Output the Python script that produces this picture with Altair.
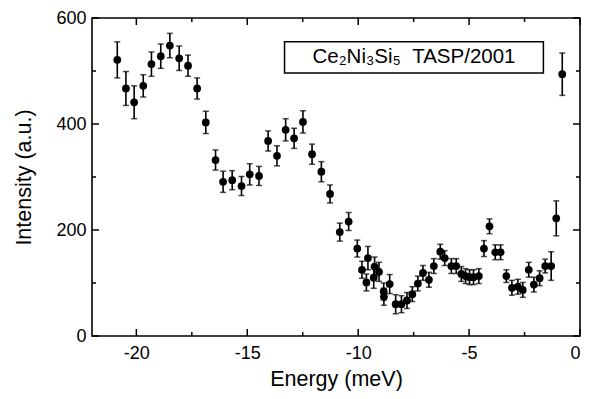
import altair as alt
import pandas as pd

# ---- data ----
energy = [-20.86, -20.47, -20.10, -19.69, -19.32, -18.90, -18.49, -18.07, -17.67, -17.26,
          -16.87, -16.43, -16.09, -15.68, -15.26, -14.89, -14.47, -14.06, -13.66, -13.27,
          -12.89, -12.49, -12.08, -11.66, -11.27, -10.83, -10.43, -10.04, -9.83, -9.63,
          -9.56, -9.30, -9.26, -9.06, -8.85, -8.84, -8.58, -8.31, -8.05, -7.80,
          -7.56, -7.31, -7.08, -6.81, -6.59, -6.30, -6.10, -5.80, -5.58, -5.35,
          -5.16, -4.98, -4.80, -4.56, -4.33, -4.08, -3.82, -3.58, -3.32, -3.07,
          -2.80, -2.58, -2.31, -2.08, -1.82, -1.57, -1.30, -1.07, -0.80]
intensity = [521, 467, 441, 472, 513, 528, 548, 524, 510, 467,
             403, 332, 291, 294, 283, 305, 302, 368, 340, 389,
             373, 404, 343, 310, 268, 196, 216, 165, 125, 101,
             147, 110, 131, 121, 84, 74, 98, 60, 60, 67,
             79, 99, 119, 106, 132, 159, 147, 132, 132, 117,
             113, 111, 111, 113, 165, 207, 158, 158, 113, 91,
             93, 87, 125, 97, 109, 132, 132, 222, 494]
error = [34, 32, 31, 21, 23, 23, 23, 23, 20, 20,
         21, 19, 20, 18, 18, 20, 18, 19, 19, 21,
         19, 21, 19, 19, 17, 17, 17, 16, 16, 16,
         22, 20, 18, 18, 16, 16, 18, 18, 16, 15,
         14, 14, 14, 14, 14, 14, 14, 14, 14, 14,
         14, 14, 14, 14, 15, 14, 14, 14, 12, 14,
         14, 14, 14, 14, 14, 13, 27, 33, 40]

note_text = "Ce\u2082Ni\u2083Si\u2085 \u00a0TASP/2001"
note_energy = [-13.32, -1.65]      # left / right edge of the label box (meV)
note_intensity = [496, 555]        # bottom / top edge of the label box

x_major = [-20, -15, -10, -5, 0]
x_minor = [-17.5, -12.5, -7.5, -2.5]
y_major = [0, 200, 400, 600]
y_minor = [100, 300, 500]

df = pd.DataFrame({"energy": energy, "intensity": intensity, "err": error})
df["lo"] = df["intensity"] - df["err"]
df["hi"] = df["intensity"] + df["err"]

note = pd.DataFrame({
    "x1": [note_energy[0]], "x2": [note_energy[1]],
    "y1": [note_intensity[0]], "y2": [note_intensity[1]],
    "xc": [(note_energy[0] + note_energy[1]) / 2],
    "yc": [(note_intensity[0] + note_intensity[1]) / 2],
    "label": [note_text],
})

W, H = 488, 318
FONT = "Liberation Sans"
MAJ, MIN = 7, 4

xscale = alt.Scale(domain=[-22, 0], nice=False, zero=False)
yscale = alt.Scale(domain=[0, 600], nice=False, zero=False)


def x_ticks_layer(values, edge_px, length):
    # inward frame ticks placed by the x scale; edge_px is the frame edge (0 top, H bottom)
    inward = length if edge_px == 0 else -length
    return alt.Chart(pd.DataFrame({"v": values})).mark_rule(
        color="black", strokeWidth=1.5).encode(
        x=alt.X("v:Q", scale=xscale, axis=None),
        y=alt.value(edge_px), y2=alt.value(edge_px + inward))


def y_ticks_layer(values, edge_px, length):
    inward = length if edge_px == 0 else -length
    return alt.Chart(pd.DataFrame({"v": values})).mark_rule(
        color="black", strokeWidth=1.5).encode(
        y=alt.Y("v:Q", scale=yscale, axis=None),
        x=alt.value(edge_px), x2=alt.value(edge_px + inward))


frame_ticks = [
    x_ticks_layer(x_major, H, MAJ), x_ticks_layer(x_minor, H, MIN),
    x_ticks_layer(x_major, 0, MAJ), x_ticks_layer(x_minor, 0, MIN),
    y_ticks_layer(y_major, 0, MAJ), y_ticks_layer(y_minor, 0, MIN),
    y_ticks_layer(y_major, W, MAJ), y_ticks_layer(y_minor, W, MIN),
]

base = alt.Chart(df)

rules = base.mark_rule(color="black", strokeWidth=1.6).encode(
    x=alt.X("energy:Q", scale=xscale, axis=None),
    y=alt.Y("lo:Q", scale=yscale, axis=None),
    y2="hi:Q",
)

caps_hi = base.mark_tick(color="black", orient="horizontal", size=6, thickness=1.5).encode(
    x=alt.X("energy:Q", scale=xscale, axis=None),
    y=alt.Y("hi:Q", scale=yscale, axis=None),
)

caps_lo = base.mark_tick(color="black", orient="horizontal", size=6, thickness=1.5).encode(
    x=alt.X("energy:Q", scale=xscale, axis=None),
    y=alt.Y("lo:Q", scale=yscale, axis=None),
)

box = alt.Chart(note).mark_rect(fill="white", stroke="black", strokeWidth=1.5).encode(
    x=alt.X("x1:Q", scale=xscale, axis=None),
    x2="x2:Q",
    y=alt.Y("y1:Q", scale=yscale, axis=None),
    y2="y2:Q",
)

box_text = alt.Chart(note).mark_text(font=FONT, fontSize=20.5, color="black",
                                     align="center", baseline="middle").encode(
    x=alt.X("xc:Q", scale=xscale, axis=None),
    y=alt.Y("yc:Q", scale=yscale, axis=None),
    text="label:N",
)

points = base.mark_circle(size=60, opacity=1, color="black").encode(
    x=alt.X("energy:Q", scale=xscale,
            axis=alt.Axis(orient="bottom", values=x_major, labelExpr="toString(datum.value)",
                          ticks=False, domain=False, grid=False, labelPadding=8,
                          labelFont=FONT, labelFontSize=18, labelColor="black",
                          title="Energy (meV)", titleFont=FONT, titleFontSize=21.5,
                          titleFontWeight="normal", titleColor="black", titlePadding=6)),
    y=alt.Y("intensity:Q", scale=yscale,
            axis=alt.Axis(orient="left", values=y_major, labelExpr="toString(datum.value)",
                          ticks=False, domain=False, grid=False, labelPadding=6,
                          labelFont=FONT, labelFontSize=18, labelColor="black",
                          title="Intensity (a.u.)", titleFont=FONT, titleFontSize=21.5,
                          titleFontWeight="normal", titleColor="black", titlePadding=20)),
)

chart = alt.layer(*frame_ticks, rules, caps_hi, caps_lo, box, box_text, points).resolve_axis(
    x="independent", y="independent"
).properties(
    width=W, height=H,
    autosize=alt.AutoSizeParams(type="none"),
    padding={"left": 92, "top": 18, "right": 12, "bottom": 63},
    background="white",
).configure_view(stroke="black", strokeWidth=1.6)

chart.save("out.html", embed_options={"renderer": "svg", "actions": False})
